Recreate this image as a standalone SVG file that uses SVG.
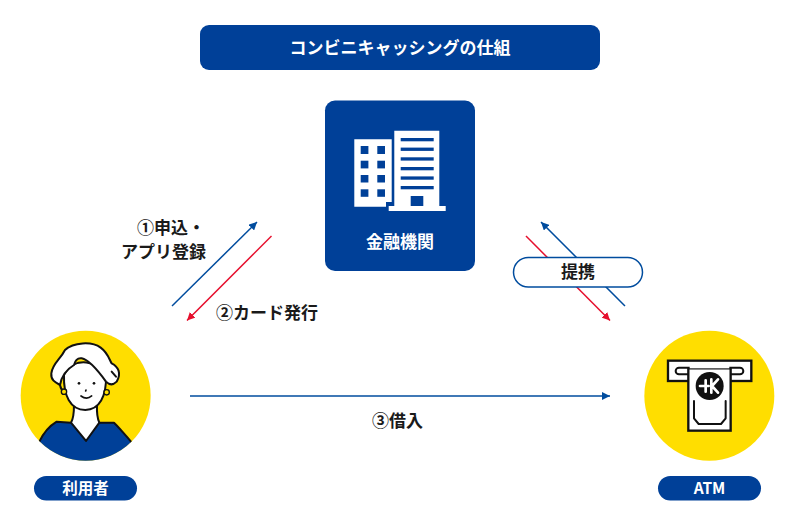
<svg xmlns="http://www.w3.org/2000/svg" width="800" height="516" viewBox="0 0 800 516">
<style>
text{font-family:"Noto Sans CJK JP","Noto Sans",sans-serif;font-weight:700;font-size:17px}
.w{fill:#fff}.k{fill:#1a1a1a}.m{text-anchor:middle}.e{text-anchor:end}
.b{fill:#004098}.ln{fill:none;stroke-linecap:round;stroke-linejoin:round}
.blk{stroke:#111;stroke-width:6}
.cb{stroke:#004c9e;stroke-width:1.5;fill:none}.cr{stroke:#e60f2d;stroke-width:1.5;fill:none}
</style>
<defs>
<marker id="ab" markerUnits="userSpaceOnUse" markerWidth="9" markerHeight="8" refX="8" refY="4" orient="auto"><path d="M0,0L8,4L0,8Z" fill="#004c9e"/></marker>
<marker id="ar" markerUnits="userSpaceOnUse" markerWidth="9" markerHeight="8" refX="8" refY="4" orient="auto"><path d="M0,0L8,4L0,8Z" fill="#e60f2d"/></marker>
<clipPath id="pc"><circle cx="227" cy="212" r="195"/></clipPath>
</defs>
<rect width="800" height="516" fill="#fff"/>
<g id="title"><rect class="b" x="200" y="25" width="400" height="45" rx="9"/><text class="w m" x="400" y="54">コンビニキャッシングの仕組</text></g>
<g id="connectors">
<line class="cb" x1="172" y1="306" x2="257" y2="222" marker-end="url(#ab)"/>
<line class="cr" x1="271.500" y1="236" x2="187" y2="320.500" marker-end="url(#ar)"/>
<line class="cb" x1="625" y1="306" x2="541" y2="222" marker-end="url(#ab)"/>
<line class="cr" x1="526" y1="236" x2="610" y2="320.500" marker-end="url(#ar)"/>
<line class="cb" x1="190" y1="396" x2="610" y2="396" marker-end="url(#ab)"/>
</g>
<g id="bank">
<rect class="b" x="325" y="100.500" width="150" height="170.500" rx="10"/>
<path class="w" d="M354.300,139.300H391.700V202H386V206.700H354.300Z"/>
<path class="w" d="M394.300,130.700H439.300V206H445.700V211H388.700V206H394.300Z"/>
<g class="b">
<rect x="360.700" y="146" width="7.700" height="8"/><rect x="377.300" y="146" width="7.700" height="8"/>
<rect x="360.700" y="160.700" width="7.700" height="7.700"/><rect x="377.300" y="160.700" width="7.700" height="7.700"/>
<rect x="360.700" y="175" width="7.700" height="7.500"/><rect x="377.300" y="175" width="7.700" height="7.500"/>
<rect x="360.700" y="189.300" width="7.700" height="7.500"/><rect x="377.300" y="189.300" width="7.700" height="7.500"/>
<rect x="400.700" y="138" width="33" height="3.300"/><rect x="400.700" y="147.600" width="33" height="3.300"/>
<rect x="400.700" y="157.300" width="33" height="3.300"/><rect x="400.700" y="167" width="33" height="3.300"/>
<rect x="400.700" y="176.400" width="33" height="3.300"/><rect x="400.700" y="186" width="33" height="3.300"/>
<rect x="410.700" y="196" width="12.600" height="10"/>
</g>
<text class="w m" x="400" y="248">金融機関</text>
</g>
<g id="user">
<g transform="translate(10,325) scale(0.3333)">
<circle cx="227" cy="212" r="195" fill="#ffde00"/>
<g clip-path="url(#pc)">
<path d="M192,240C192,270 188,285 183,293L228,348L268,293C262,280 260,265 261,240Z" fill="#fff"/>
<path class="b" d="M88,350C100,325 115,305 140,290L183,293L228,348L268,293L312,293C330,310 350,335 363,350L363,420H88Z"/>
<path class="ln blk" d="M88,350C100,325 115,305 140,290L183,293L228,348L268,293L312,293C330,310 350,335 363,350"/>
</g>
<path class="ln blk" d="M192,240C192,270 188,285 183,293M261,240C260,265 262,280 268,293"/>
<path class="ln blk" fill="#fff" d="M162,150C160,210 180,255 226,255C268,255 290,215 288,150C270,110 190,90 162,150Z" style="fill:#fff"/>
<path d="M150,180C135,172 122,165 124,145C128,115 150,105 165,75C190,52 245,48 272,68C295,85 298,105 305,115C325,125 335,145 320,170C312,178 300,182 288,170C270,145 240,105 215,100C200,98 195,108 192,120C175,130 155,150 150,180Z" fill="#fff" stroke="#111" stroke-width="6" stroke-linejoin="round"/>
<path class="ln blk" d="M305,140L318,155M150,180C152,190 155,195 160,198"/>
<circle cx="162" cy="200" r="8" fill="#ffde00" stroke="#111" stroke-width="4"/>
<circle cx="290" cy="202" r="8" fill="#ffde00" stroke="#111" stroke-width="4"/>
<circle cx="207" cy="175" r="4" fill="#111"/><circle cx="252" cy="175" r="4" fill="#111"/>
<path class="ln" stroke="#111" stroke-width="5" d="M213,213Q230,226 245,213M228,195L227,198"/>
</g>
<rect class="b" x="34" y="476" width="103" height="24.500" rx="12.250"/>
<text class="w m" x="85.500" y="494" style="font-size:15.500px">利用者</text>
</g>
<g id="atm">
<g transform="translate(640,325) scale(0.3333)">
<circle cx="208" cy="212" r="195" fill="#ffde00"/>
<rect x="84" y="107" width="250" height="61" fill="#fff" stroke="#111" stroke-width="7"/>
<rect x="107" y="128" width="203" height="20" rx="10" fill="#fff" stroke="#111" stroke-width="6"/>
<rect x="145" y="130" width="127" height="187" fill="#fff" stroke="#111" stroke-width="7"/>
<rect x="149" y="122" width="119" height="8" fill="#fff"/>
<circle cx="209" cy="183" r="42" fill="#111"/>
<path class="ln" stroke="#fff" stroke-width="8" d="M180,183H206M197,166V200M214,163V203M234,163L216,183L234,203"/>
<path class="ln blk" d="M162,228V280L176,297H243L257,280V228"/>
</g>
<rect class="b" x="658" y="476" width="103" height="24.500" rx="12.250"/>
<text class="w m" x="709.500" y="494" style="font-size:15.500px">ATM</text>
</g>
<g id="labels">
<text class="k e" x="205" y="234">①申込・</text>
<text class="k e" x="206" y="258">アプリ登録</text>
<text class="k" x="216" y="319">②カード発行</text>
<text class="k" x="372" y="427">③借入</text>
</g>
<g id="teikei">
<rect x="513.500" y="257.500" width="129" height="29.500" rx="14.750" fill="#fff" stroke="#004c9e" stroke-width="1.500"/>
<text class="k m" x="578" y="278">提携</text>
</g>
</svg>
